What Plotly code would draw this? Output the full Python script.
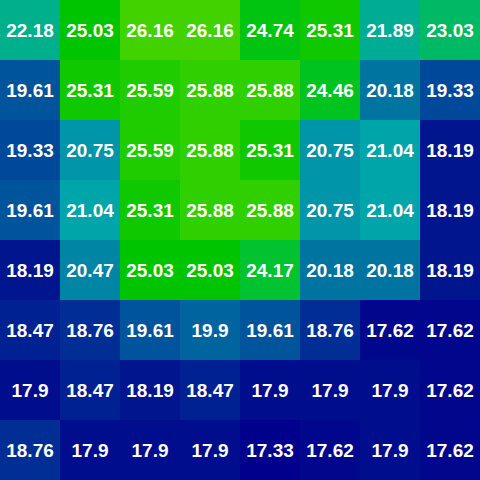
import plotly.graph_objects as go

rows = ["r0", "r1", "r2", "r3", "r4", "r5", "r6", "r7"]
cols = ["c0", "c1", "c2", "c3", "c4", "c5", "c6", "c7"]
values = [
    [22.18, 25.03, 26.16, 26.16, 24.74, 25.31, 21.89, 23.03],
    [19.61, 25.31, 25.59, 25.88, 25.88, 24.46, 20.18, 19.33],
    [19.33, 20.75, 25.59, 25.88, 25.31, 20.75, 21.04, 18.19],
    [19.61, 21.04, 25.31, 25.88, 25.88, 20.75, 21.04, 18.19],
    [18.19, 20.47, 25.03, 25.03, 24.17, 20.18, 20.18, 18.19],
    [18.47, 18.76, 19.61, 19.9, 19.61, 18.76, 17.62, 17.62],
    [17.9, 18.47, 18.19, 18.47, 17.9, 17.9, 17.9, 17.62],
    [18.76, 17.9, 17.9, 17.9, 17.33, 17.62, 17.9, 17.62],
]

colorscale = [
    [0.0, "rgb(0,0,140)"],
    [0.1, "rgb(0,22,142)"],
    [0.16, "rgb(0,45,148)"],
    [0.26, "rgb(0,85,155)"],
    [0.32, "rgb(0,115,160)"],
    [0.39, "rgb(0,150,168)"],
    [0.42, "rgb(0,165,170)"],
    [0.55, "rgb(0,176,140)"],
    [0.645, "rgb(0,185,100)"],
    [0.78, "rgb(0,195,45)"],
    [0.87, "rgb(0,196,0)"],
    [0.935, "rgb(30,204,0)"],
    [1.0, "rgb(65,210,0)"],
]

text = [[("%g" % v) for v in r] for r in values]

fig = go.Figure(go.Heatmap(
    z=values, x=cols, y=rows,
    colorscale=colorscale, showscale=False,
    text=text, texttemplate="%{text}",
    textfont=dict(family="Liberation Sans, Arial, sans-serif", size=19, color="white", weight="bold"),
    xgap=0, ygap=0,
))
fig.update_layout(
    width=480, height=480,
    margin=dict(l=0, r=0, t=0, b=0),
    paper_bgcolor="white", plot_bgcolor="white",
    xaxis=dict(visible=False),
    yaxis=dict(visible=False, autorange="reversed"),
)
fig.write_html("out.html", config={"displayModeBar": False},
               post_script="document.body.style.margin='0';document.body.style.overflow='hidden';")
